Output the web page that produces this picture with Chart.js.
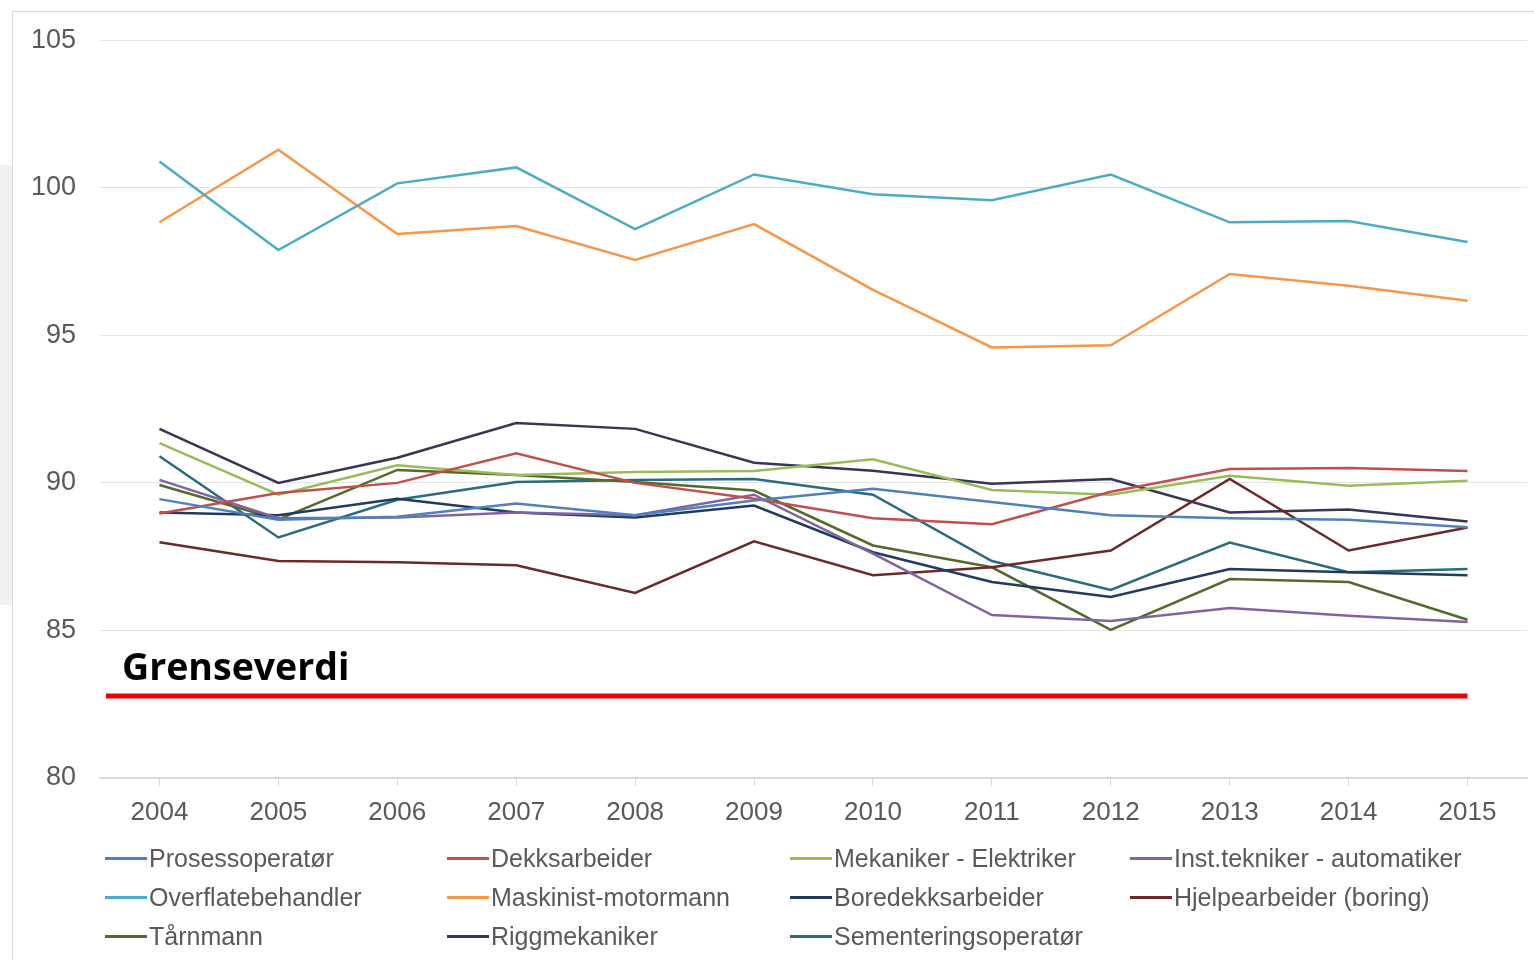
<!DOCTYPE html>
<html>
<head>
<meta charset="utf-8">
<script src="https://cdn.jsdelivr.net/npm/chart.js@4/dist/chart.umd.min.js"></script>
<style>
  html, body { margin: 0; padding: 0; background: #fff; }
  #wrap { position: relative; width: 1534px; height: 960px; overflow: hidden; }
  #strip { position: absolute; left: 0; top: 165px; width: 12px; height: 440px; background: #f0f0f0; }
  #frame { position: absolute; left: 12px; top: 11px; width: 1600px; height: 1000px; border-left: 1px solid #d9d9d9; border-top: 1px solid #d9d9d9; }
  canvas { position: absolute; left: 0; top: 0; }
  #legend { position: absolute; left: 105px; top: 839px; display: grid;
    grid-template-columns: 342px 343px 340px 360px; grid-auto-rows: 39px;
    font-family: "Liberation Sans", Arial, sans-serif; font-size: 25px; color: #595959; }
  .item { display: flex; align-items: center; white-space: nowrap; }
  .item span.sw { display: inline-block; width: 42px; height: 3px; margin-right: 2px; }
</style>
</head>
<body>
<div id="wrap">
  <div id="strip"></div>
  <div id="frame"></div>
  <canvas id="lineChart" width="1534" height="960"></canvas>
  <div id="legend"></div>
</div>
<script>
const years = ['2004', '2005', '2006', '2007', '2008', '2009', '2010', '2011', '2012', '2013', '2014', '2015'];

const prosessoperator   = [89.45, 88.75, 88.85, 89.3, 88.9, 89.4, 89.8, 89.35, 88.9, 88.8, 88.75, 88.5];
const dekksarbeider     = [88.96, 89.66, 90.0, 91.0, 90.0, 89.46, 88.8, 88.6, 89.7, 90.47, 90.5, 90.4];
const mekaniker         = [91.35, 89.6, 90.6, 90.27, 90.37, 90.4, 90.8, 89.76, 89.6, 90.24, 89.9, 90.07];
const insttekniker      = [90.1, 88.8, 88.83, 89.0, 88.9, 89.6, 87.6, 85.52, 85.32, 85.76, 85.5, 85.29];
const overflate         = [100.89, 97.89, 100.15, 100.69, 98.6, 100.45, 99.78, 99.58, 100.45, 98.83, 98.87, 98.16];
const maskinist         = [98.83, 101.29, 98.43, 98.7, 97.55, 98.77, 96.54, 94.59, 94.66, 97.08, 96.68, 96.17];
const boredekk          = [89.0, 88.9, 89.46, 89.0, 88.83, 89.23, 87.65, 86.64, 86.13, 87.08, 86.97, 86.87];
const hjelpearbeider    = [87.99, 87.35, 87.31, 87.21, 86.27, 88.02, 86.87, 87.14, 87.71, 90.13, 87.71, 88.49];
const tarnmann          = [89.93, 88.76, 90.44, 90.27, 90.03, 89.74, 87.88, 87.14, 85.02, 86.74, 86.64, 85.36];
const riggmekaniker     = [91.83, 90.0, 90.85, 92.03, 91.83, 90.68, 90.41, 89.97, 90.13, 89.0, 89.1, 88.69];
const sementering       = [90.9, 88.15, 89.43, 90.03, 90.1, 90.13, 89.6, 87.35, 86.37, 87.98, 86.97, 87.08];

const seriesLabels = ['Prosessoperatør', 'Dekksarbeider', 'Mekaniker - Elektriker', 'Inst.tekniker - automatiker',
    'Overflatebehandler', 'Maskinist-motormann', 'Boredekksarbeider', 'Hjelpearbeider (boring)',
    'Tårnmann', 'Riggmekaniker', 'Sementeringsoperatør'];
const seriesData = [prosessoperator, dekksarbeider, mekaniker, insttekniker,
    overflate, maskinist, boredekk, hjelpearbeider,
    tarnmann, riggmekaniker, sementering];
const seriesColors = ['#4F81BD', '#C0504D', '#9BBB59', '#8064A2',
    '#4BACC6', '#F79646', '#1F3B5E', '#6B2A2A',
    '#55692C', '#3A3552', '#2A6B7E'];

const grenseverdi = 82.78;
const grenseTekst = 'Grenseverdi';

const datasets = seriesLabels.map((label, index) => {
    return {
        label: label,
        data: seriesData[index],
        borderColor: seriesColors[index],
        backgroundColor: seriesColors[index],
        borderWidth: 2.5,
        pointRadius: 0,
        tension: 0
    };
});

// red limit line plus its label
const grensePlugin = {
    id: 'grense',
    afterDatasetsDraw(chart) {
        const ctx = chart.ctx;
        const y = chart.scales.y.getPixelForValue(grenseverdi);
        const xEnd = chart.scales.x.getPixelForValue(years.length - 1);
        ctx.save();
        ctx.strokeStyle = '#EE0000';
        ctx.lineWidth = 5;
        ctx.beginPath();
        ctx.moveTo(chart.chartArea.left + 6, y);
        ctx.lineTo(xEnd, y);
        ctx.stroke();
        ctx.fillStyle = '#000';
        ctx.font = 'bold 37.5px "Open Sans", "Liberation Sans", sans-serif';
        ctx.textBaseline = 'alphabetic';
        ctx.fillText(grenseTekst, chart.chartArea.left + 22, y - 16);
        ctx.restore();
    }
};

const ctx = document.getElementById('lineChart');
new Chart(ctx, {
    type: 'line',
    data: { labels: years, datasets: datasets },
    plugins: [grensePlugin],
    options: {
        responsive: false,
        animation: false,
        layout: { padding: { top: 17, right: 7, bottom: 0, left: 0 } },
        plugins: {
            legend: { display: false },
            tooltip: { enabled: false }
        },
        scales: {
            x: {
                offset: true,
                grid: { display: true, drawOnChartArea: false, drawTicks: true, tickLength: 8, color: '#D9D9D9' },
                border: { display: true, color: '#D9D9D9', width: 2 },
                ticks: { color: '#595959', font: { family: 'Liberation Sans', size: 26 }, padding: 11 },
                afterFit: (scale) => { scale.height = 960 - 778; }
            },
            y: {
                min: 80,
                max: 105,
                ticks: { stepSize: 5, color: '#595959', font: { family: 'Liberation Sans', size: 27 }, padding: 24 },
                grid: { color: '#E3E3E3', drawTicks: false },
                border: { display: false },
                afterFit: (scale) => { scale.width = 100; }
            }
        }
    }
});

// legend in fixed columns as in the original
const legendEl = document.getElementById('legend');
seriesLabels.forEach((label, index) => {
    const item = document.createElement('div');
    item.className = 'item';
    item.innerHTML = '<span class="sw" style="background:' + seriesColors[index] + '"></span>' + label;
    legendEl.appendChild(item);
});
</script>
</body>
</html>
